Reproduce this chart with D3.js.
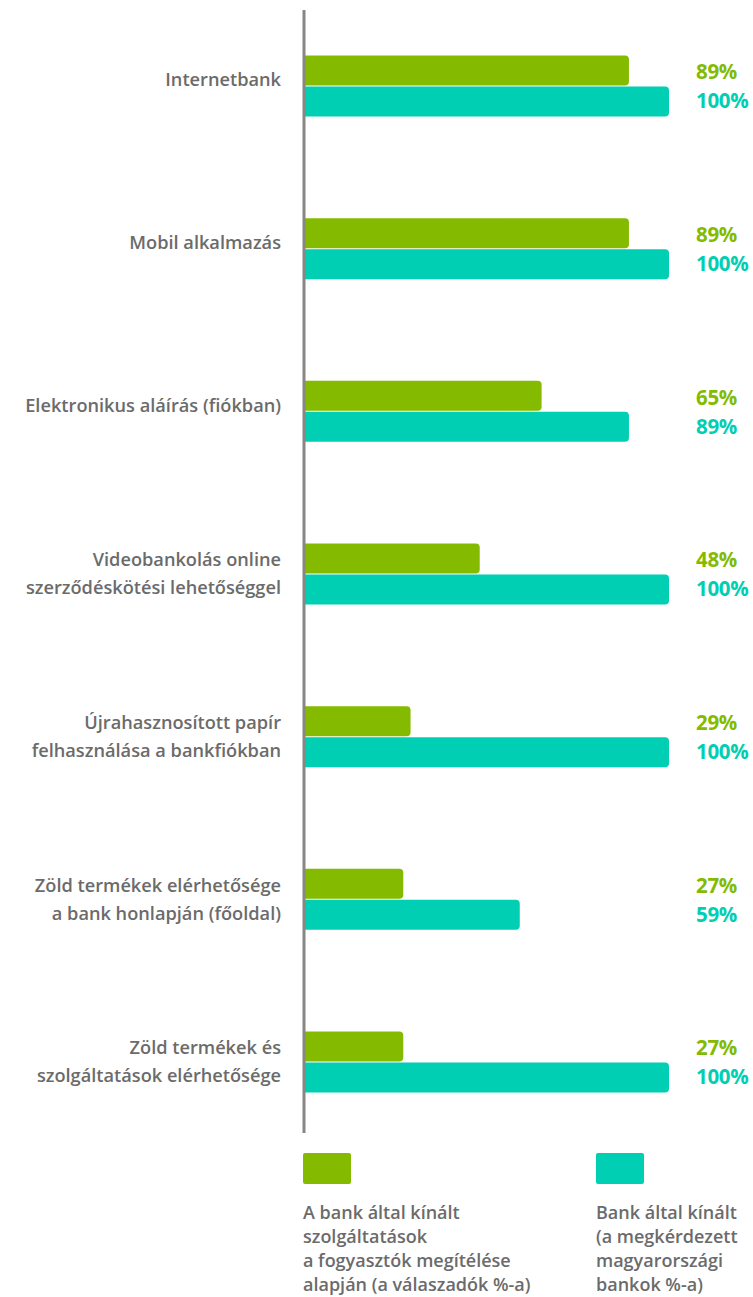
<!DOCTYPE html>
<html><head><meta charset="utf-8">
<script src="https://cdn.jsdelivr.net/npm/d3@7"></script>
<style>body{margin:0;background:#fff}svg{display:block}text{font-family:"Open Sans",sans-serif}</style>
</head><body><svg id="c" width="753" height="1297"></svg>
<script>
const categories = [
  ["Internetbank"],
  ["Mobil alkalmazás"],
  ["Elektronikus aláírás (fiókban)"],
  ["Videobankolás online","szerződéskötési lehetőséggel"],
  ["Újrahasznosított papír","felhasználása a bankfiókban"],
  ["Zöld termékek elérhetősége","a bank honlapján (főoldal)"],
  ["Zöld termékek és","szolgáltatások elérhetősége"]
];
const consumers = [89, 89, 65, 48, 29, 27, 27];
const banks = [100, 100, 89, 100, 100, 59, 100];
const legendLabels = [
  ["A bank által kínált","szolgáltatások","a fogyasztók megítélése","alapján (a válaszadók %-a)"],
  ["Bank által kínált","(a megkérdezett","magyarországi","bankok %-a)"]
];
const green = "#84bb00", teal = "#00cfb4", gray = "#6b6b6b";
const svg = d3.select("#c");
const x = d3.scaleLinear().domain([0,100]).range([305,669]);
const y = d3.scalePoint().domain(d3.range(categories.length)).range([86,1062]);
const bh = 30, r = 4;
function barPath(x0,x1,y0,h){
  return `M${x0},${y0}H${x1-r}Q${x1},${y0} ${x1},${y0+r}V${y0+h-r}Q${x1},${y0+h} ${x1-r},${y0+h}H${x0}Z`;
}
const g = svg.append("g");
categories.forEach((c,i)=>{
  const cy = y(i);
  g.append("path").attr("d", barPath(x(0), x(consumers[i]), cy-bh-0.5, bh)).attr("fill", green);
  g.append("path").attr("d", barPath(x(0), x(banks[i]), cy+0.5, bh)).attr("fill", teal);
  g.append("text").attr("x",696).attr("y",cy-14).attr("dy","0.35em").attr("fill",green)
    .attr("font-size",20.5).attr("font-weight",700).attr("letter-spacing",-0.3).text(consumers[i]+"%");
  g.append("text").attr("x",696).attr("y",cy+15).attr("dy","0.35em").attr("fill",teal)
    .attr("font-size",20.5).attr("font-weight",700).attr("letter-spacing",-0.3).text(banks[i]+"%");
  const t = g.append("text").attr("text-anchor","end").attr("fill",gray).attr("font-size",18.2).attr("font-weight",600);
  const n = c.length;
  c.forEach((line,j)=>{
    t.append("tspan").attr("x",281).attr("y", cy + (j-(n-1)/2)*28 - (n===1?6:0)).attr("dy","0.35em").text(line);
  });
});
svg.append("line").attr("x1",304).attr("x2",304).attr("y1",10).attr("y2",1133).attr("stroke","#8a8683").attr("stroke-width",3);
// legend
[[303,green],[596,teal]].forEach(([lx,col],k)=>{
  svg.append("rect").attr("x",lx).attr("y",1153).attr("width",48).attr("height",31).attr("rx",2).attr("fill",col);
  const t = svg.append("text").attr("fill",gray).attr("font-size",18).attr("font-weight",600);
  legendLabels[k].forEach((line,j)=>{
    t.append("tspan").attr("x",lx).attr("y",1219+j*24).text(line);
  });
});
</script></body></html>
